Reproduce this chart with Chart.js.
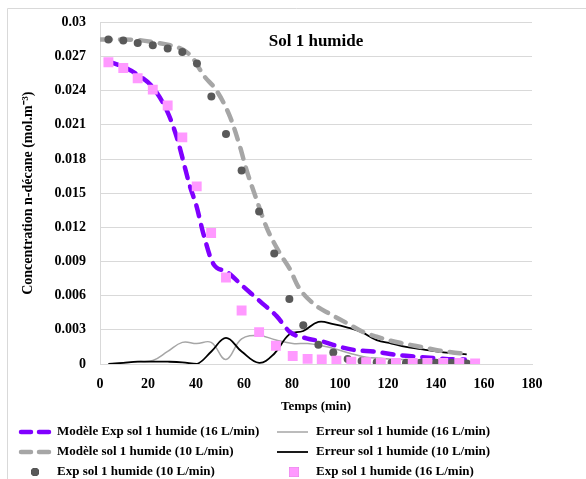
<!DOCTYPE html>
<html>
<head>
<meta charset="utf-8">
<script src="https://cdn.jsdelivr.net/npm/chart.js@4.4.1/dist/chart.umd.min.js"></script>
<style>
  body { margin: 0; background: #fff; }
  #wrap { position: relative; width: 586px; height: 479px; }
</style>
</head>
<body>
<div id="wrap"><canvas id="canvas" width="586" height="479"></canvas></div>
<script>
// temps (min) des mesures
var t10 = [3.5, 9.7, 15.7, 22, 28.2, 34.3, 40.4, 46.4, 52.5, 59, 66.3, 72.6, 78.9, 84.7, 91, 97.2, 103.2, 109, 115.3, 121.5, 127.5, 133.6, 140, 146.5, 152.8];
var t16 = [3.5, 9.7, 15.7, 22, 28.2, 34.3, 40.3, 46.3, 52.5, 59, 66.3, 73.3, 80.3, 86.5, 92.4, 98.5, 104.7, 110.9, 117, 123.3, 130.3, 136.4, 143, 149.7, 156.3];

// Exp sol 1 humide
var exp10 = [0.0285, 0.0284, 0.0282, 0.0280, 0.0277, 0.0274, 0.0264, 0.0235, 0.0202, 0.0170, 0.0134, 0.0097, 0.0057, 0.0034, 0.0017, 0.0010, 0.00044, 0.00026, 0.00015, 0.0001, 0.0001, 0.0001, 0.0001, 0.0001, 0.00005];
var exp16 = [0.0265, 0.0260, 0.0251, 0.0241, 0.0227, 0.0199, 0.0156, 0.0115, 0.0076, 0.0047, 0.0028, 0.0016, 0.0007, 0.00045, 0.0004, 0.0003, 0.0002, 0.00015, 0.0001, 0.0001, 0.0001, 0.0001, 0.0001, 0.0001, 0.00005];

// modeles
var tModel16 = [3, 9.7, 15.7, 22, 28.2, 32, 37.5, 40.3, 43, 47.2, 52.8, 59.7, 66.7, 73.6, 79.2, 86, 93, 100, 107, 113.9, 123.6, 132, 140.3, 150, 152];
var model16 = [0.0266, 0.0261, 0.0254, 0.0243, 0.0221, 0.0199, 0.0156, 0.0138, 0.0115, 0.0088, 0.0081, 0.0068, 0.0055, 0.0042, 0.0028, 0.00225, 0.00196, 0.0015, 0.0012, 0.0011, 0.0008, 0.00064, 0.0005, 0.0004, 0.0004];
var tModel10 = [0, 10, 18, 24, 29.2, 35.4, 38.9, 43, 48.6, 54.2, 58.3, 61.1, 65.3, 69.4, 75, 79.2, 82.6, 88.9, 95.8, 102.8, 109.7, 115.3, 120, 126.4, 134.7, 141.7, 150, 153];
var model10 = [0.0285, 0.0285, 0.0284, 0.0282, 0.0280, 0.0275, 0.0268, 0.0254, 0.0240, 0.0217, 0.0191, 0.0170, 0.0144, 0.0120, 0.0097, 0.0083, 0.0068, 0.0053, 0.0044, 0.0036, 0.0028, 0.0024, 0.0021, 0.0018, 0.00146, 0.00117, 0.00094, 0.0009];

// erreurs
var err16 = [0, 0.0001, 0.0002, 0.0003, 0.0011, 0.0019, 0.0018, 0.0019, 0.0004, 0.0022, 0.0025, 0.0021, 0.0018, 0.0018, 0.0016, 0.0013, 0.0009, 0.0006, 0.0005, 0.0004, 0.0004, 0.0003, 0.0003, 0.0003, 0.0002];
var err10 = [0, 0.0001, 0.0002, 0.0002, 0.0002, 0.00015, 0, 0.0011, 0.0023, 0.0011, 0.0001, 0.0009, 0.0026, 0.0029, 0.0037, 0.0035, 0.0032, 0.0028, 0.0021, 0.0018, 0.0015, 0.0013, 0.0011, 0.00095, 0.00085];

var xTicks = [0, 20, 40, 60, 80, 100, 120, 140, 160, 180];

function pts(xs, ys) {
    return xs.map(function(x, i) { return {x: x, y: ys[i]}; });
}

var serif = "'Liberation Serif', 'Times New Roman', serif";

var data = {
    datasets: [
        { label: 'Modèle Exp sol 1 humide (16 L/min)', data: pts(tModel16, model16), showLine: true,
          borderColor: '#8000ff', borderWidth: 4.5, borderDash: [11, 9], borderCapStyle: 'round',
          pointRadius: 0, cubicInterpolationMode: 'monotone', order: 3 },
        { label: 'Erreur sol 1 humide (16 L/min)', data: pts(t16, err16), showLine: true,
          borderColor: '#a6a6a6', borderWidth: 1.5, tension: 0.4, pointRadius: 0, order: 6 },
        { label: 'Modèle sol 1 humide (10 L/min)', data: pts(tModel10, model10), showLine: true,
          borderColor: '#a6a6a6', borderWidth: 4.5, borderDash: [11, 9], borderCapStyle: 'round',
          pointRadius: 0, cubicInterpolationMode: 'monotone', order: 4 },
        { label: 'Erreur sol 1 humide (10 L/min)', data: pts(t10, err10), showLine: true,
          borderColor: '#000000', borderWidth: 1.8, tension: 0.4, pointRadius: 0, order: 5 },
        { label: 'Exp sol 1 humide (10 L/min)', data: pts(t10, exp10), showLine: false,
          backgroundColor: '#595959', borderColor: '#595959', pointStyle: 'circle',
          pointRadius: 4, borderWidth: 0, order: 2 },
        { label: 'Exp sol 1 humide (16 L/min)', data: pts(t16, exp16), showLine: false,
          backgroundColor: '#ff99ff', borderColor: '#ff99ff', pointStyle: 'rect',
          pointRadius: 7, borderWidth: 0, order: 1 }
    ]
};

// cadre, titre interne et legende sur 2 colonnes
var decor = {
    id: 'decor',
    beforeDraw: function(chart) {
        var ctx = chart.ctx;
        ctx.save();
        ctx.strokeStyle = '#d9d9d9';
        ctx.lineWidth = 1;
        ctx.beginPath();
        ctx.moveTo(7.5, 479); ctx.lineTo(7.5, 8.5); ctx.lineTo(586, 8.5);
        ctx.stroke();
        ctx.restore();
    },
    afterDraw: function(chart) {
        var ctx = chart.ctx;
        var area = chart.chartArea;
        ctx.save();
        ctx.fillStyle = '#000';
        ctx.font = 'bold 17px ' + serif;
        ctx.textAlign = 'center';
        ctx.textBaseline = 'middle';
        ctx.fillText('Sol 1 humide', (area.left + area.right) / 2, 42);

        var colX = [18, 277];
        var rowY = [432, 452, 472];
        ctx.font = 'bold 13px ' + serif;
        ctx.textAlign = 'left';
        chart.data.datasets.forEach(function(ds, i) {
            var x = colX[i % 2], y = rowY[Math.floor(i / 2)];
            ctx.save();
            if (ds.showLine) {
                ctx.strokeStyle = ds.borderColor;
                ctx.lineWidth = ds.borderWidth;
                ctx.lineCap = ds.borderDash ? 'round' : 'butt';
                ctx.beginPath();
                if (ds.borderDash) {
                    ctx.moveTo(x + 3, y); ctx.lineTo(x + 13, y);
                    ctx.moveTo(x + 21, y); ctx.lineTo(x + 31, y);
                } else {
                    ctx.moveTo(x, y); ctx.lineTo(x + 31, y);
                }
                ctx.stroke();
            } else {
                Chart.helpers.drawPoint(ctx, {pointStyle: ds.pointStyle, radius: ds.pointRadius, borderWidth: 0},
                    x + 17, y);
                ctx.fillStyle = ds.backgroundColor;
                ctx.fill();
            }
            ctx.restore();
            ctx.fillStyle = '#000';
            ctx.textBaseline = 'middle';
            ctx.fillText(ds.label, x + 39, y);
        });
        ctx.restore();
    }
};

var ctx = document.getElementById('canvas').getContext('2d');
window.myChart = new Chart(ctx, {
    type: 'scatter',
    data: data,
    plugins: [decor],
    options: {
        responsive: false,
        animation: false,
        layout: { padding: { left: 0, right: 54, top: 22, bottom: 60 } },
        plugins: {
            legend: { display: false },
            tooltip: { enabled: false }
        },
        scales: {
            x: {
                type: 'linear', min: 0, max: 180,
                afterBuildTicks: function(scale) {
                    scale.ticks = xTicks.map(function(v) { return {value: v}; });
                },
                afterFit: function(scale) { scale.height = 55; },
                grid: { display: false },
                border: { display: true, color: '#d9d9d9' },
                ticks: { color: '#000', padding: 4, font: { family: serif, size: 14, weight: 'bold' } },
                title: { display: true, text: 'Temps (min)', color: '#000',
                         padding: { top: 0, bottom: 5 },
                         font: { family: serif, size: 13, weight: 'bold' } }
            },
            y: {
                min: 0, max: 0.03,
                ticks: {
                    stepSize: 0.003, color: '#000', padding: 14,
                    font: { family: serif, size: 14, weight: 'bold' },
                    callback: function(v) { return String(Number(v.toFixed(3))); }
                },
                afterFit: function(scale) { scale.width = 100; },
                grid: { color: '#d9d9d9', drawTicks: false },
                border: { display: true, color: '#d9d9d9' },
                title: { display: true, text: 'Concentration n-décane (mol.m\u207B\u00B3)', color: '#000',
                         padding: { top: 20, bottom: 0 },
                         font: { family: serif, size: 14, weight: 'bold' } }
            }
        }
    }
});
</script>
</body>
</html>
